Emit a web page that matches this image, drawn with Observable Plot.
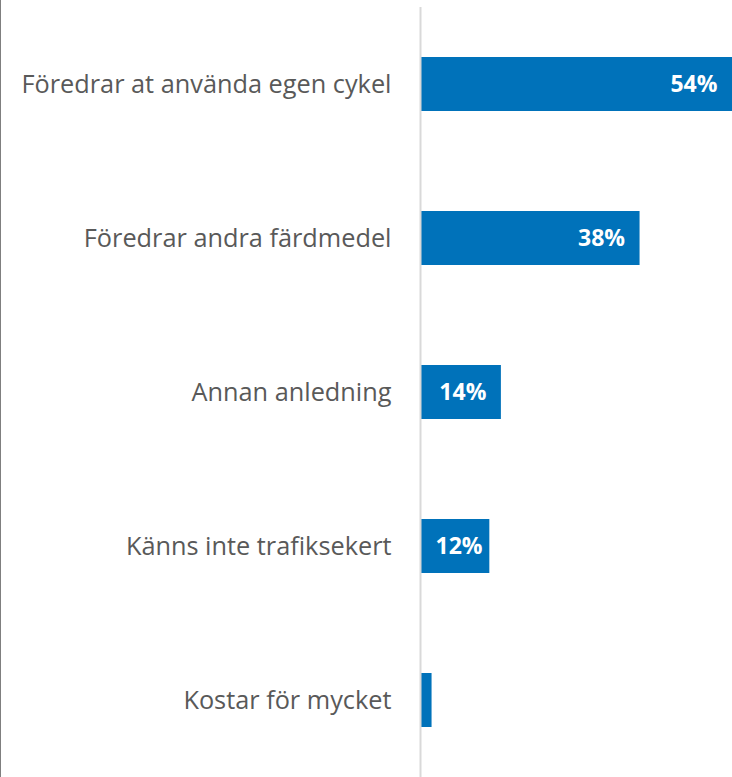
<!DOCTYPE html>
<html>
<head>
<meta charset="utf-8">
<script src="https://cdn.jsdelivr.net/npm/d3@7"></script>
<script src="https://cdn.jsdelivr.net/npm/@observablehq/plot@0.6"></script>
<style>
  html, body { margin: 0; padding: 0; background: #fff; }
  #wrap { position: relative; width: 732px; height: 777px; }
  #wrap .edge { position: absolute; left: 0; top: 0; width: 1px; height: 777px; background: #7f7f7f; }
</style>
</head>
<body>
<div id="wrap"><div class="edge"></div></div>
<script>
const categories = [
  "Föredrar at använda egen cykel",
  "Föredrar andra färdmedel",
  "Annan anledning",
  "Känns inte trafiksekert",
  "Kostar för mycket"
];
const values = [54, 38, 14, 12, 2];

const data = categories.map((c, i) => ({category: c, value: values[i]}));
const labelOpts = {fill: "white", fontWeight: "bold", fontSize: 23, text: d => d.value + "%", y: "category"};

const chart = Plot.plot({
  width: 732,
  height: 777,
  marginLeft: 420,
  marginRight: 0,
  marginTop: 7,
  marginBottom: 0,
  style: {fontFamily: "'Open Sans', sans-serif", background: "#fff"},
  x: {domain: [0, 54], axis: null},
  y: {domain: categories, paddingInner: 0.65, paddingOuter: 0.325, label: null},
  marks: [
    Plot.axisY({tickSize: 0, tickPadding: 29, fontSize: 25.3, color: "#595959", label: null}),
    Plot.barX(data, {y: "category", x: "value", fill: "#0072BA", insetLeft: 1}),
    Plot.ruleX([0], {stroke: "#d9d9d9", strokeWidth: 2}),
    Plot.text(data.filter(d => d.value >= 14), {
      ...labelOpts, x: "value", textAnchor: "end", dx: -15
    }),
    Plot.text(data.filter(d => d.value >= 5 && d.value < 14), {
      ...labelOpts, x: 0, textAnchor: "start", dx: 15
    })
  ]
});
document.getElementById("wrap").appendChild(chart);
</script>
</body>
</html>
